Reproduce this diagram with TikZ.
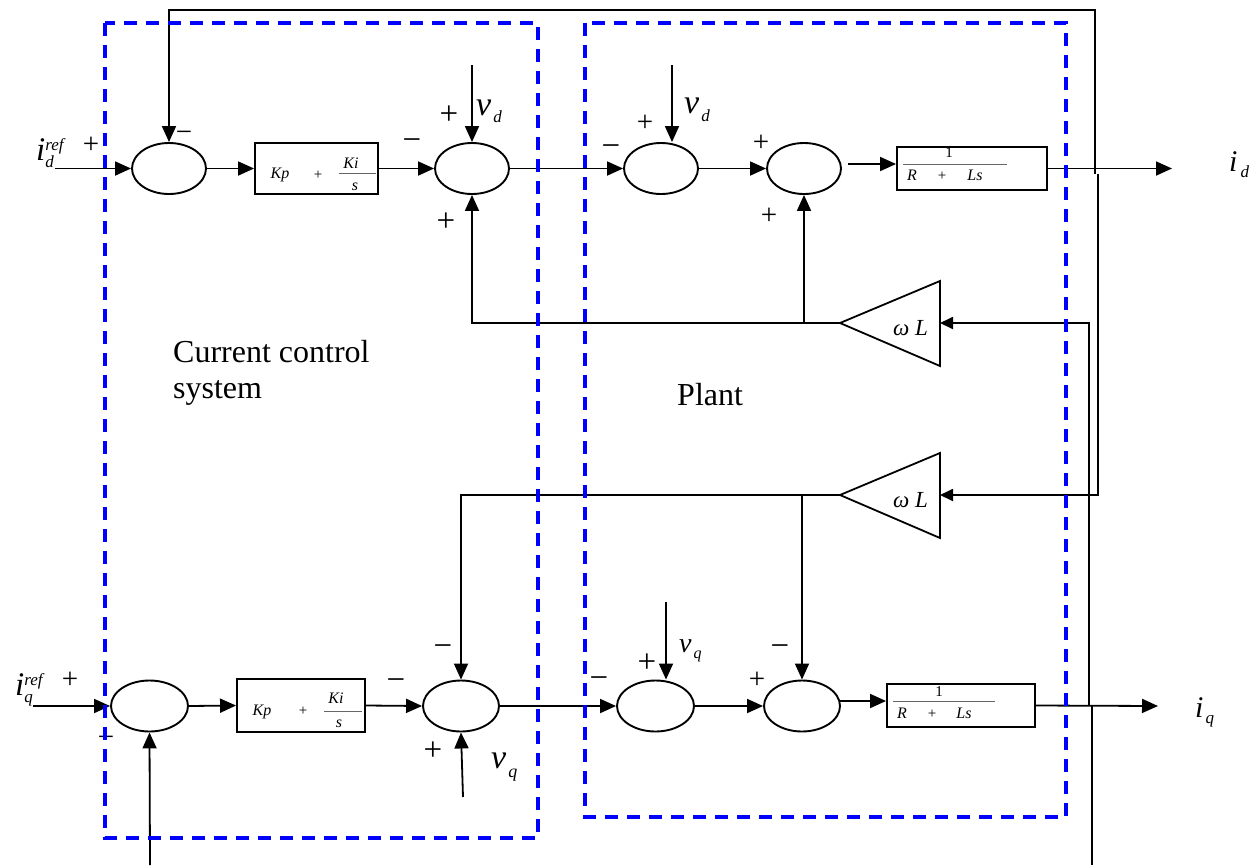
\documentclass[tikz,border=0pt]{standalone}
\usepackage{fontspec}
\setmainfont{Liberation Serif}
\usetikzlibrary{shapes.geometric,arrows.meta,calc}

\newcommand\fs[1]{\fontsize{#1}{#1}\selectfont}
% letter with subscript and optional superscript
\newcommand\idx[4]{{\fs{#1}\itshape #2}\rlap{\raisebox{-7pt}{\fs{17}\itshape #3}}\raisebox{10pt}{\fs{17}\itshape #4}}

\begin{document}
\begin{tikzpicture}[x=1pt,y=-1pt,
  sumj/.style={draw, ellipse, line width=1.9pt, minimum width=74pt, minimum height=51pt, inner sep=0pt},
  blk/.style={draw, line width=1.9pt, inner sep=0pt},
  wire/.style={line width=1.8pt},
  arr/.style={wire, -{Triangle[length=16pt,width=14pt]}},
  sarr/.style={wire, -{Triangle[length=13pt,width=12pt]}},
  bigsign/.style={inner sep=0pt, font=\fs{33}},
  smallsign/.style={inner sep=0pt, font=\fs{29}},
  tf/.style={inner sep=0pt, anchor=base, font=\fs{16}\itshape},
  fracline/.style={black!60, line width=1pt},
  txt/.style={inner sep=0pt, anchor=base west},
  zone/.style={draw=blue, line width=3.2pt, dash pattern=on 13pt off 9pt}
]
\useasboundingbox (0,0) rectangle (1258,865);

% ---------- d-axis row ----------
\node[sumj] (sd1) at (169,168.5) {};
\node[blk, minimum width=123pt, minimum height=51pt] (pid) at (316.5,168.5) {};
\node[sumj] (sd2) at (472,168.5) {};
\node[sumj] (sd3) at (661,168.5) {};
\node[sumj] (sd4) at (804,168.5) {};
\node[blk, minimum width=150pt, minimum height=43pt] (pld) at (972,168.5) {};

% ---------- q-axis row ----------
\node[sumj, minimum width=77pt] (sq1) at (149.5,706) {};
\node[blk, minimum width=128pt, minimum height=53pt] (piq) at (301,705.5) {};
\node[sumj, minimum width=76pt] (sq2) at (461,706) {};
\node[sumj, minimum width=77pt] (sq3) at (655.5,706) {};
\node[sumj, minimum width=76pt] (sq4) at (802,706) {};
\node[blk, minimum width=148pt, minimum height=43pt] (plq) at (961,705.5) {};

% ---------- cross-coupling gains ----------
\coordinate (wd) at (840,323);
\coordinate (wdin) at (940,323);
\draw[line width=1.8pt, line join=miter] (wd) -- (940,281) -- (940,366) -- cycle;
\node[txt, font=\fs{23}\itshape] (wdl) at (893,335) {ω L};
\coordinate (wq) at (840,495);
\coordinate (wqin) at (940,495);
\draw[line width=1.8pt, line join=miter] (wq) -- (940,453) -- (940,538) -- cycle;
\node[txt, font=\fs{23}\itshape] (wql) at (893,507) {ω L};

% ---------- block contents ----------
\node[tf] (kpd) at (280,178) {Kp};
\node[tf, font=\fs{15}] (pd) at (318,179) {+};
\node[tf] (kid) at (351,168) {Ki};
\draw[fracline] (339,173) -- (376,173);
\node[tf] (ssd) at (355,190) {s};

\node[tf] (kpq) at (262,715) {Kp};
\node[tf, font=\fs{15}] (pq) at (303,715) {+};
\node[tf] (kiq) at (336,703) {Ki};
\draw[fracline] (324,711) -- (362,711);
\node[tf] (ssq) at (339,727) {s};

\node[tf, font=\fs{15}] (oned) at (949,157) {1};
\draw[fracline] (903,164) -- (1007,164);
\node[tf] (rd) at (912,180) {R};
\node[tf, font=\fs{15}\upshape] (prd) at (942,180) {+};
\node[tf] (lsd) at (975,180) {Ls};

\node[tf, font=\fs{15}] (oneq) at (939,696) {1};
\draw[fracline] (893,701) -- (995,701);
\node[tf] (rq) at (902,718) {R};
\node[tf, font=\fs{15}\upshape] (prq) at (932,718) {+};
\node[tf] (lsq) at (964,718) {Ls};

% ---------- d-axis connectors ----------
\coordinate (idref) at (55,168.5);
\draw[arr] (idref) -- (sd1.west);
\draw[arr] (sd1.east) -- (pid.west);
\draw[arr] (pid.east) -- (sd2.west);
\coordinate (vd1) at (472,65);
\draw[arr] (vd1) -- (sd2.north);
\draw[arr] (sd2.east) -- (sd3.west);
\coordinate (vd2) at (672,65);
\draw[arr] (vd2) -- (vd2 |- sd3.north);
\draw[arr] (sd3.east) -- (sd4.west);
\coordinate (ld) at (848,164);
\draw[arr] (ld) -- (ld -| pld.west);
\coordinate (idout) at (1172,168.5);
\draw[arr] (pld.east) -- (idout);
\coordinate (tapd) at (1095,174);
\coordinate (ftop) at (600,10);
\draw[arr] (tapd) |- (ftop) -| (sd1.north);
\coordinate (tapd2) at (1098,174);
\draw[sarr] (tapd2) |- (wqin);
\draw[arr] (wd) -| (sd2.south);
\draw[arr] (wd -| sd4.south) -- (sd4.south);

% ---------- q-axis connectors ----------
\coordinate (iqref) at (33,706);
\draw[arr] (iqref) -- (sq1.west);
\draw[arr] (sq1.east) -- (piq.west);
\draw[arr] (piq.east) -- (sq2.west);
\coordinate (fq) at (150,865);
\draw[arr] (fq) -- (sq1.south);
\draw[arr] (wq) -| (sq2.north);
\coordinate (vq1) at (463,797);
\draw[arr] (vq1) -- (sq2.south);
\draw[arr] (sq2.east) -- (sq3.west);
\coordinate (vq2) at (666,602);
\draw[arr] (vq2) -- (vq2 |- sq3.north);
\draw[arr] (sq3.east) -- (sq4.west);
\draw[arr] (wq -| sq4.north) -- (sq4.north);
\coordinate (lq) at (840,701);
\draw[arr] (lq) -- (lq -| plq.west);
\coordinate (iqout) at (1158,706);
\draw[arr] (plq.east) -- (iqout);
\coordinate (tapq) at (1089,706);
\draw[sarr] (tapq) |- (wdin);
\coordinate (tapq2) at (1092,706);
\coordinate (qdown) at (1092,865);
\draw[wire] (tapq2) -- (qdown);

% ---------- signal labels ----------
\node[txt] (lidref) at (36,160) {\idx{33}{i}{d}{ref}};
\node[txt] (liqref) at (15,695) {\idx{33}{i}{q}{ref}};
\node[txt] (lid) at (1229,171) {{\fs{30}\itshape i}\hspace{3pt}\raisebox{-6pt}{\fs{17}\itshape d}};
\node[txt] (liq) at (1195,717) {{\fs{30}\itshape i}\hspace{2pt}\raisebox{-6pt}{\fs{17}\itshape q}};
\node[txt] (lvd1) at (476,115) {{\fs{34}\itshape v}\hspace{2pt}\raisebox{-7pt}{\fs{17}\itshape d}};
\node[txt] (lvd2) at (684,113) {{\fs{34}\itshape v}\hspace{2pt}\raisebox{-8pt}{\fs{17}\itshape d}};
\node[txt] (lvq1) at (679,652) {{\fs{28}\itshape v}\hspace{2pt}\raisebox{-6pt}{\fs{16}\itshape q}};
\node[txt] (lvq2) at (491,768) {{\fs{34}\itshape v}\hspace{2pt}\raisebox{-9pt}{\fs{18}\itshape q}};

% ---------- summing signs ----------
\node[smallsign] (g01) at (91,145) {+};
\node[smallsign] (g02) at (184,136) {−};
\node[bigsign]   (g03) at (412,145) {−};
\node[bigsign]   (g04) at (449,115) {+};
\node[bigsign]   (g05) at (446,222) {+};
\node[bigsign]   (g06) at (611,151) {−};
\node[smallsign] (g07) at (645,123) {+};
\node[smallsign] (g08) at (761,143) {+};
\node[smallsign] (g09) at (769,216) {+};
\node[smallsign] (g10) at (70,680) {+};
\node[smallsign] (g11) at (106,741) {−};
\node[bigsign]   (g12) at (396,685) {−};
\node[bigsign]   (g13) at (443,651) {−};
\node[bigsign]   (g14) at (433,751) {+};
\node[bigsign]   (g15) at (599,683) {−};
\node[bigsign]   (g16) at (647,663) {+};
\node[bigsign]   (g17) at (780,651) {−};
\node[smallsign] (g18) at (757,680) {+};

% ---------- region captions ----------
\node[txt, font=\fs{32}] (cc1) at (173,362) {Current control};
\node[txt, font=\fs{32}] (cc2) at (173,398) {system};
\node[txt, font=\fs{32}] (plt) at (677,405) {Plant};

% ---------- dashed regions ----------
\draw[zone] (105,23) rectangle (538,838);
\draw[zone] (585,23) rectangle (1066,817);
\end{tikzpicture}
\end{document}
